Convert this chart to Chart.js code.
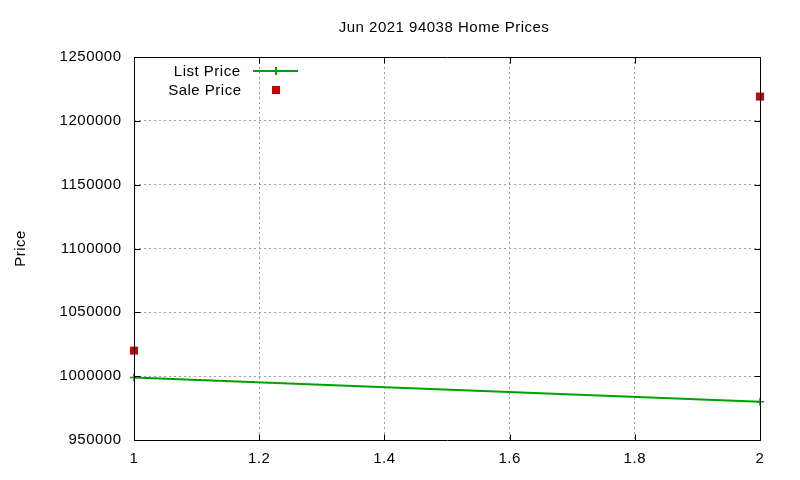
<!DOCTYPE html>
<html><head><meta charset="utf-8">
<script src="https://cdn.jsdelivr.net/npm/chart.js@4.4.1/dist/chart.umd.min.js"></script>
<style>html,body{margin:0;padding:0;background:#fff}</style>
</head><body>
<canvas id="c" width="800" height="480"></canvas>
<script>
const chartTitle = 'Jun 2021 94038 Home Prices';
const yAxisTitle = 'Price';
const seriesNames = ['List Price', 'Sale Price'];
const xValues = [1, 2];
const listPrices = [999000, 980000];
const salePrices = [1020000, 1219000];
const xTicks = [1, 1.2, 1.4, 1.6, 1.8, 2];
const yTicks = [950000, 1000000, 1050000, 1100000, 1150000, 1200000, 1250000];

const FONT = "'Liberation Sans', Arial, sans-serif";
const FS = 15;
const SPACING = '0.5px';
const GREEN = '#00a000';
const RED = '#cc0000';

const gnuFrame = {
  id: 'gnuFrame',
  beforeDraw(chart) {
    chart.ctx.letterSpacing = SPACING;
  },
  afterDraw(chart) {
    const ctx = chart.ctx;
    const a = chart.chartArea;
    const xs = chart.scales.x, ys = chart.scales.y;
    ctx.save();
    ctx.letterSpacing = SPACING;
    const L = Math.round(a.left) + 0.5, R = Math.round(a.right) + 0.5;
    const T = Math.round(a.top) + 0.5, B = Math.round(a.bottom) + 0.5;
    ctx.strokeStyle = '#000';
    ctx.lineWidth = 1;
    ctx.setLineDash([]);
    ctx.beginPath();
    ctx.rect(L, T, R - L, B - T);
    const tl = 6;
    yTicks.forEach(v => {
      const y = Math.round(ys.getPixelForValue(v)) + 0.5;
      ctx.moveTo(L, y); ctx.lineTo(L + tl, y);
      ctx.moveTo(R, y); ctx.lineTo(R - tl, y);
    });
    xTicks.forEach(v => {
      const x = Math.round(xs.getPixelForValue(v)) + 0.5;
      ctx.moveTo(x, B); ctx.lineTo(x, B - tl);
      ctx.moveTo(x, T); ctx.lineTo(x, T + tl);
    });
    ctx.stroke();
    ctx.fillStyle = '#000';
    ctx.font = FS + 'px ' + FONT;
    ctx.textAlign = 'center';
    ctx.textBaseline = 'middle';
    ctx.fillText(chartTitle, (a.left + a.right) / 2 - 3, 27.5);
    ctx.textAlign = 'right';
    ctx.fillText(seriesNames[0], 240.5, 71.5);
    ctx.fillText(seriesNames[1], 241.5, 90.5);
    ctx.strokeStyle = GREEN;
    ctx.lineWidth = 2;
    ctx.beginPath();
    ctx.moveTo(253, 71); ctx.lineTo(298, 71);
    ctx.moveTo(276, 67); ctx.lineTo(276, 75);
    ctx.stroke();
    ctx.fillStyle = RED;
    ctx.fillRect(272, 86, 8, 8);
    ctx.restore();
  }
};

new Chart(document.getElementById('c'), {
  type: 'line',
  data: {
    datasets: [
      {
        label: seriesNames[0],
        data: xValues.map((x, i) => ({x: x, y: listPrices[i]})),
        borderColor: GREEN,
        backgroundColor: GREEN,
        borderWidth: 2,
        pointStyle: 'cross',
        pointRadius: 4,
        pointBorderWidth: 1.5,
        pointBorderColor: GREEN,
        clip: false,
        tension: 0
      },
      {
        label: seriesNames[1],
        data: xValues.map((x, i) => ({x: x, y: salePrices[i]})),
        showLine: false,
        pointStyle: 'rect',
        pointRadius: 5.66,
        pointBorderWidth: 0,
        backgroundColor: RED,
        borderColor: RED,
        clip: false
      }
    ]
  },
  options: {
    responsive: false,
    animation: false,
    events: [],
    layout: { padding: { left: 0, right: 40, top: 57, bottom: 0 } },
    plugins: { legend: { display: false }, tooltip: { enabled: false }, title: { display: false } },
    scales: {
      x: {
        type: 'linear',
        min: 1, max: 2,
        afterBuildTicks: s => { s.ticks = xTicks.map(v => ({value: v})); },
        afterFit: s => { s.height = 40; },
        grid: { color: '#a0a0a0', lineWidth: 1, drawTicks: false },
        border: { display: false, dash: [2, 3] },
        ticks: { padding: 10, color: '#000', font: { family: FONT, size: FS }, maxRotation: 0,
                 callback: v => String(v) }
      },
      y: {
        type: 'linear',
        min: 950000, max: 1250000,
        afterBuildTicks: s => { s.ticks = yTicks.map(v => ({value: v})); },
        afterFit: s => { s.width = 134; },
        grid: { color: '#a0a0a0', lineWidth: 1, drawTicks: false },
        border: { display: false, dash: [2, 3] },
        title: { display: true, text: yAxisTitle, color: '#000', font: { family: FONT, size: FS },
                 padding: { top: 12, bottom: 0 } },
        ticks: { padding: 12.5, color: '#000', font: { family: FONT, size: FS },
                 callback: v => String(v) }
      }
    }
  },
  plugins: [gnuFrame]
});
</script>
</body></html>
